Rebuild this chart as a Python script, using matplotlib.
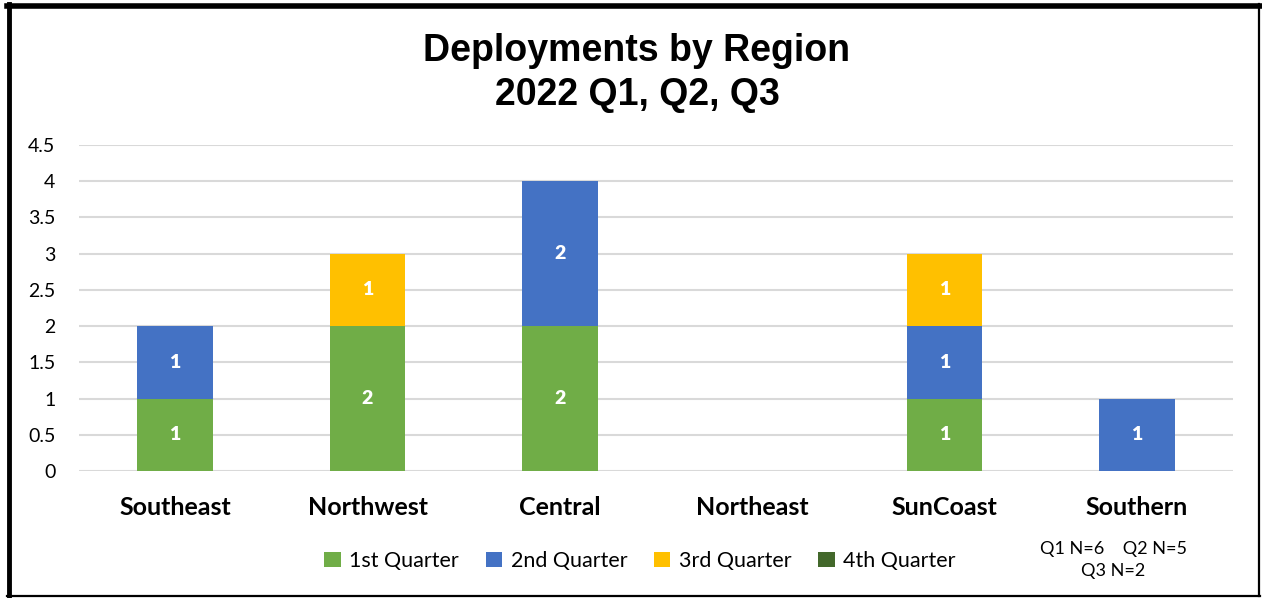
import matplotlib
matplotlib.use("Agg")
import matplotlib.pyplot as plt
import numpy as np
from matplotlib.lines import Line2D
from matplotlib.patches import Patch

regions = ["Southeast", "Northwest", "Central", "Northeast", "SunCoast", "Southern"]
q1 = [1, 2, 2, 0, 1, 0]
q2 = [1, 0, 2, 0, 1, 1]
q3 = [0, 1, 0, 0, 1, 0]
q4 = [0, 0, 0, 0, 0, 0]
series_names = ["1st Quarter", "2nd Quarter", "3rd Quarter", "4th Quarter"]
colors = ["#70AD47", "#4472C4", "#FFC000", "#43682B"]
yticks = [0, 0.5, 1, 1.5, 2, 2.5, 3, 3.5, 4, 4.5]
ytick_labels = ["0", "0.5", "1", "1.5", "2", "2.5", "3", "3.5", "4", "4.5"]
title = "Deployments by Region\n2022 Q1, Q2, Q3"
note = "Q1 N=6    Q2 N=5\nQ3 N=2"

FONT = ["Lato", "DejaVu Sans"]
TFONT = ["Liberation Sans", "DejaVu Sans"]

W, H = 1262, 598
fig = plt.figure(figsize=(W / 100, H / 100), dpi=100)
fig.patch.set_facecolor("white")

ax = fig.add_axes([79 / W, 1 - 471 / H, (1233 - 79) / W, (471 - 145) / H])
x = np.arange(len(regions))
bottom = np.zeros(len(regions))
for vals, name, c in zip([q1, q2, q3, q4], series_names, colors):
    v = np.array(vals, dtype=float)
    ax.bar(x, v, width=0.395, bottom=bottom, color=c, label=name, zorder=3)
    for xi, b, val in zip(x, bottom, v):
        if val > 0:
            ax.text(xi, b + val / 2, f"{int(val)}", ha="center", va="center",
                    color="white", fontsize=14, fontweight="heavy", family=FONT, zorder=4)
    bottom += v

ax.set_xlim(-0.5, len(regions) - 0.5)
ax.set_ylim(0, 4.5)
ax.set_yticks(yticks)
ax.set_yticklabels(ytick_labels, family=FONT, fontsize=14)
ax.set_xticks(x)
ax.set_xticklabels(regions, family=FONT, fontsize=18, fontweight="bold")
ax.tick_params(axis="y", length=0, pad=17)
ax.tick_params(axis="x", length=0, pad=18)
for s in ax.spines.values():
    s.set_visible(False)
ax.grid(axis="y", color="#D9D9D9", linewidth=1.5, zorder=0)
ax.set_axisbelow(True)

fig.text(637 / W, 1 - 73 / H, title, ha="center", va="center", fontsize=27,
         fontweight="bold", family=TFONT, linespacing=1.32)

handles = [Patch(facecolor=c, label=n) for c, n in zip(colors, series_names)]
fig.legend(handles=handles, loc="center", bbox_to_anchor=(640 / W, 1 - 561 / H), ncol=4,
           frameon=False, prop={"family": FONT, "size": 15.5}, handlelength=0.75,
           handleheight=0.75, handletextpad=0.4, columnspacing=1.25)

fig.text(1113 / W, 1 - 560 / H, note, ha="center", va="center", fontsize=13,
         family=FONT, linespacing=1.4)

# border
fig.add_artist(Line2D([9 / W, 9 / W], [0, 1 - 4 / H], color="black", linewidth=3.5, transform=fig.transFigure))
fig.add_artist(Line2D([7 / W, 1260 / W], [1 - 5.5 / H, 1 - 5.5 / H], color="black", linewidth=4, transform=fig.transFigure))
fig.add_artist(Line2D([1258.5 / W, 1258.5 / W], [1 - 4 / H, 1 - 596 / H], color="black", linewidth=1.6, transform=fig.transFigure))
fig.add_artist(Line2D([7 / W, 1260 / W], [1 - 595.5 / H, 1 - 595.5 / H], color="black", linewidth=1.6, transform=fig.transFigure))

fig.savefig("out.png", dpi=100, facecolor="white")
